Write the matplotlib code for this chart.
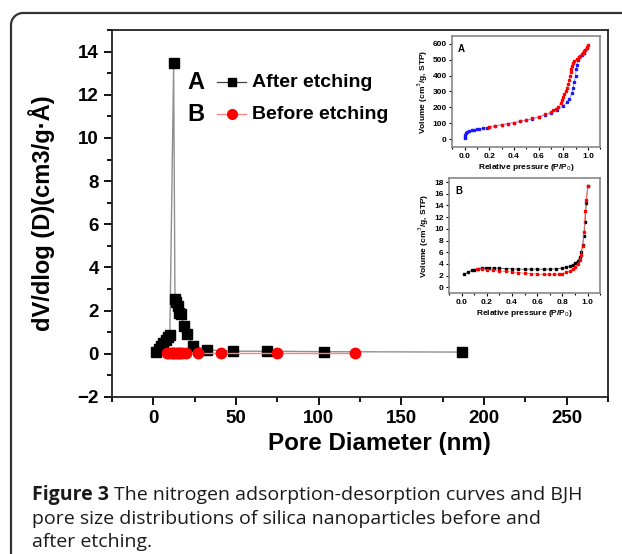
import numpy as np
import matplotlib.pyplot as plt
from matplotlib.lines import Line2D

plt.rcParams['font.family'] = ['Liberation Sans', 'DejaVu Sans']

# main panel: BJH pore size distribution
d_after = [1.8, 3.2, 4.6, 6.0, 7.4, 8.8, 10.0, 12.3, 13.1, 13.9, 14.8, 15.6, 16.6, 18.8, 20.4, 24.0, 32.5, 48, 69, 103, 187]
v_after = [0.07, 0.2, 0.35, 0.5, 0.65, 0.8, 0.85, 13.45, 2.55, 2.4, 2.2, 1.9, 1.85, 1.3, 0.93, 0.38, 0.18, 0.12, 0.12, 0.1, 0.08]
d_before = [8.2, 9.7, 11.2, 12.2, 13.2, 14.3, 15.3, 16.3, 17.3, 19.9, 26.8, 40.9, 75.1, 122.1]
v_before = [0.03, 0.03, 0.03, 0.03, 0.03, 0.03, 0.03, 0.03, 0.03, 0.03, 0.03, 0.03, 0.03, 0.03]

# inset A: isotherm after etching
pa_ads = [0.0, 0.002, 0.005, 0.01, 0.02, 0.04, 0.06, 0.08, 0.1, 0.12, 0.15, 0.18, 0.2, 0.25, 0.3, 0.35, 0.4, 0.45, 0.5, 0.55, 0.6, 0.65, 0.7, 0.75, 0.8, 0.83, 0.85, 0.87, 0.88, 0.89, 0.9, 0.905, 0.91, 0.92, 0.93, 0.95, 0.97, 0.98, 0.99]
va_ads = [5, 15, 25, 35, 45, 52, 56, 59, 61, 64, 68, 72, 76, 83, 90, 97, 104, 111, 119, 128, 138, 150, 165, 183, 210, 232, 255, 290, 320, 360, 400, 440, 470, 500, 515, 530, 545, 560, 575]
pa_des = [1.0, 0.995, 0.99, 0.98, 0.97, 0.96, 0.95, 0.94, 0.93, 0.91, 0.89, 0.88, 0.87, 0.865, 0.86, 0.855, 0.85, 0.84, 0.83, 0.82, 0.81, 0.8, 0.79, 0.78, 0.76, 0.74, 0.72, 0.7, 0.65, 0.6, 0.55, 0.5, 0.45, 0.4, 0.35, 0.3, 0.25, 0.2]
va_des = [590, 580, 572, 563, 555, 545, 535, 525, 515, 505, 495, 480, 460, 440, 420, 400, 375, 350, 320, 300, 285, 265, 245, 225, 205, 190, 180, 170, 155, 142, 130, 120, 112, 104, 97, 90, 84, 78]

# inset B: isotherm before etching
pb_blk = [0.02, 0.05, 0.08, 0.1, 0.13, 0.16, 0.19, 0.22, 0.26, 0.3, 0.35, 0.4, 0.45, 0.5, 0.55, 0.6, 0.65, 0.7, 0.75, 0.8, 0.83, 0.86, 0.88, 0.9, 0.92, 0.94, 0.95, 0.96, 0.97, 0.98, 0.99, 1.0]
vb_blk = [2.2, 2.6, 2.9, 3.0, 3.15, 3.25, 3.3, 3.3, 3.3, 3.25, 3.2, 3.15, 3.1, 3.1, 3.1, 3.1, 3.1, 3.1, 3.15, 3.3, 3.45, 3.6, 3.8, 4.1, 4.5, 5.2, 6.0, 7.2, 8.8, 11.2, 14.4, 17.4]
pb_red = [1.0, 0.99, 0.98, 0.97, 0.96, 0.95, 0.94, 0.92, 0.9, 0.88, 0.86, 0.83, 0.8, 0.77, 0.73, 0.69, 0.65, 0.6, 0.55, 0.5, 0.45, 0.4, 0.35, 0.3, 0.25, 0.2, 0.16, 0.12]
vb_red = [17.4, 15.0, 13.0, 9.4, 7.0, 5.6, 4.6, 3.9, 3.5, 3.1, 2.8, 2.55, 2.35, 2.25, 2.2, 2.2, 2.2, 2.25, 2.3, 2.4, 2.5, 2.6, 2.7, 2.8, 2.9, 3.0, 3.05, 3.05]

W, H = 622, 554
fig = plt.figure(figsize=(W / 100, H / 100), dpi=100)

# rounded frame of the journal figure box (open to the right and bottom)
r = 12
t = np.linspace(np.pi, np.pi / 2, 20)
fx = np.concatenate([[11], 11 + r + r * np.cos(t), [W + 5]])
fy = np.concatenate([[H + 5], 13 + r - r * np.sin(t), [13]])
fig.add_artist(Line2D(fx / W, 1 - fy / H, transform=fig.transFigure, color='#333333', linewidth=1.6))

ax = fig.add_axes([0.180, 0.2834, 0.7975, 0.6625])
ax.plot(d_after, v_after, color='#909090', linewidth=1.0, marker='s', markersize=6.5,
        markerfacecolor='black', markeredgecolor='black', zorder=3)
ax.plot(d_before, v_before, color='#ff8080', linewidth=1.0, marker='o', markersize=7.5,
        markerfacecolor='red', markeredgecolor='red', zorder=4)
ax.set_xlim(-25, 275)
ax.set_ylim(-2, 15)
ax.set_xticks([0, 50, 100, 150, 200, 250])
ax.set_xticks(np.arange(-25, 276, 25), minor=True)
ax.set_yticks(np.arange(-2, 15, 2))
ax.set_yticks(np.arange(-2, 16, 1), minor=True)
ax.tick_params(axis='both', which='major', labelsize=13.5, length=6, width=1.3, direction='out')
ax.tick_params(axis='both', which='minor', length=3.5, width=1.3, direction='out')
for lab in ax.get_xticklabels() + ax.get_yticklabels():
    lab.set_fontweight('bold')
for sp in ax.spines.values():
    sp.set_linewidth(1.3)
    sp.set_color('#222222')
ax.set_xlabel('Pore Diameter (nm)', fontsize=17.4, fontweight='bold')
ax.xaxis.set_label_coords(0.54, -0.095)
ax.set_ylabel('dV/dlog (D)(cm3/g·Å)', fontsize=17, fontweight='bold', labelpad=16)

# legend built by hand (letter + line + text)
for yy, letter, label, col, lcol, mk, ms in [(0.858, 'A', 'After etching', 'black', '#404040', 's', 6),
                                              (0.771, 'B', 'Before etching', 'red', '#ff8080', 'o', 7)]:
    ax.text(0.153, yy, letter, transform=ax.transAxes, fontsize=17, fontweight='bold', va='center')
    ax.plot([0.211, 0.271], [yy, yy], transform=ax.transAxes, color=lcol, linewidth=0.9)
    ax.plot([0.241], [yy], transform=ax.transAxes, marker=mk, color=col, markersize=ms)
    ax.text(0.282, yy, label, transform=ax.transAxes, fontsize=14, fontweight='bold', va='center')


def style_inset(a, letter):
    a.set_xlim(-0.1, 1.1)
    a.set_xticks(np.arange(0, 1.01, 0.2))
    a.set_xticks(np.arange(-0.1, 1.11, 0.1), minor=True)
    a.tick_params(axis='both', which='major', labelsize=6, length=2.5, width=0.8, pad=1.5)
    a.tick_params(axis='both', which='minor', length=1.5, width=0.8)
    for lab in a.get_xticklabels() + a.get_yticklabels():
        lab.set_fontweight('bold')
    for sp in a.spines.values():
        sp.set_color('#888888')
        sp.set_linewidth(1.2)
    a.set_ylabel('Volume (cm$^3$/g, STP)', fontsize=6, fontweight='bold', labelpad=2)
    a.set_xlabel('Relative pressure (P/P$_0$)', fontsize=6, fontweight='bold', labelpad=2)
    a.text(0.04, 0.93, letter, transform=a.transAxes, fontsize=7, fontweight='bold', va='top')


axa = fig.add_axes([0.727, 0.7347, 0.238, 0.2004])
axa.plot(pa_ads, va_ads, color='#8080ff', linewidth=0.5, marker='s', markersize=1.8,
         markerfacecolor='#1a1aff', markeredgecolor='#1a1aff')
axa.plot(pa_des, va_des, color='#ff8080', linewidth=0.5, marker='s', markersize=1.8,
         markerfacecolor='red', markeredgecolor='red')
axa.set_ylim(-50, 650)
axa.set_yticks(np.arange(0, 601, 100))
style_inset(axa, 'A')

axb = fig.add_axes([0.722, 0.471, 0.243, 0.2076])
axb.plot(pb_blk, vb_blk, color='#404040', linewidth=0.5, marker='s', markersize=1.8,
         markerfacecolor='black', markeredgecolor='black')
axb.plot(pb_red, vb_red, color='#ff6060', linewidth=0.5, marker='s', markersize=1.8,
         markerfacecolor='red', markeredgecolor='red')
axb.set_ylim(-1, 18.7)
axb.set_yticks(np.arange(0, 19, 2))
style_inset(axb, 'B')

# caption
cap_fs = 14
cap_x = 32 / W
head = fig.text(cap_x, 1 - 495 / H, 'Figure 3', fontsize=cap_fs, family='Open Sans', fontweight='bold',
                va='center', color='#1a1a1a')
renderer = fig.canvas.get_renderer()
hw = head.get_window_extent(renderer).width
fig.text(cap_x + (hw + 5) / W, 1 - 495 / H, 'The nitrogen adsorption-desorption curves and BJH',
         fontsize=cap_fs, family='Open Sans', va='center', color='#1a1a1a')
fig.text(cap_x, 1 - 519 / H, 'pore size distributions of silica nanoparticles before and',
         fontsize=cap_fs, family='Open Sans', va='center', color='#1a1a1a')
fig.text(cap_x, 1 - 542 / H, 'after etching.',
         fontsize=cap_fs, family='Open Sans', va='center', color='#1a1a1a')

fig.savefig('out.png', dpi=100)
